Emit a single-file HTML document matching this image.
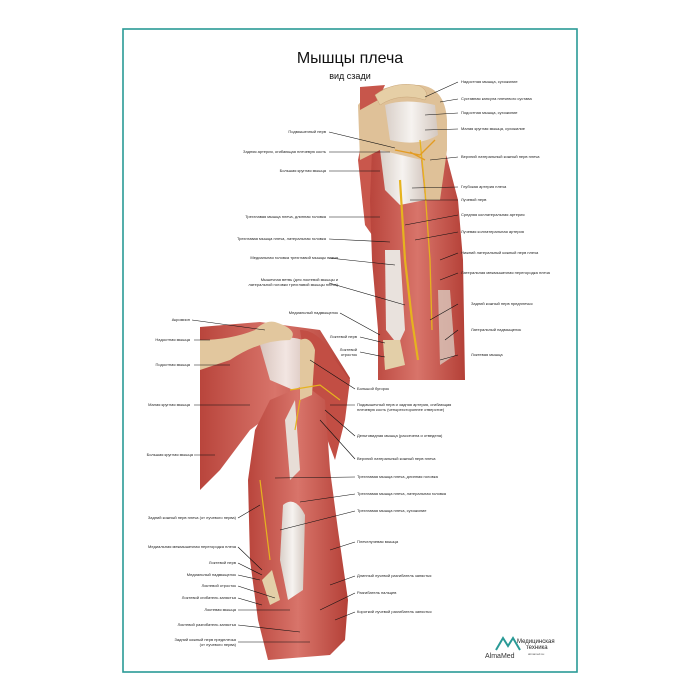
<!DOCTYPE html>
<html><head><meta charset="utf-8"><style>
body{margin:0;background:#fff}
svg{display:block}
text{font-family:"Liberation Sans",sans-serif;font-size:4px;fill:#222}
.l{stroke:#111;stroke-width:0.6;fill:none}
</style></head><body>
<svg width="700" height="700" viewBox="0 0 700 700">
<defs>
<linearGradient id="m" x1="0" x2="1"><stop offset="0" stop-color="#b9453c"/><stop offset="0.5" stop-color="#d8746a"/><stop offset="1" stop-color="#b44037"/></linearGradient>
<linearGradient id="t" x1="0" x2="1"><stop offset="0" stop-color="#d9cfc8"/><stop offset="0.5" stop-color="#f6f3f0"/><stop offset="1" stop-color="#d4c8c0"/></linearGradient>
</defs>
<rect x="123" y="29" width="454" height="643" fill="none" stroke="#2a9a96" stroke-width="1.6"/>
<text x="350" y="63" text-anchor="middle" style="font-size:16px;fill:#111">Мышцы плеча</text>
<text x="350" y="79" text-anchor="middle" style="font-size:9px;fill:#111">вид сзади</text>

<!-- TOP ARM -->
<path d="M360 150 L378 150 L378 205 L372 235 L365 225 L358 160Z" fill="#c9574c"/>
<path d="M372 150 L445 150 L458 200 L463 260 L465 380 L378 380 L378 330 L372 260 L370 200Z" fill="url(#m)"/>
<path d="M385 250 L400 250 L405 330 L398 345 L386 330Z" fill="#e9e2dd"/>
<path d="M383 340 L400 340 L405 365 L385 370Z" fill="#e3cfa8"/>
<path d="M438 290 L450 290 L455 355 L440 365Z" fill="#d9c8bd" opacity="0.8"/>
<path d="M380 150 L420 150 L425 200 L400 205 L385 190Z" fill="url(#t)"/>
<path d="M358 105 Q375 83 420 85 Q445 88 447 120 L447 150 L440 200 L425 200 L422 160 L380 150 L360 160Z" fill="#dfc198"/>
<path d="M385 105 Q405 98 435 105 L438 135 Q418 147 390 140Z" fill="url(#t)"/>
<path d="M360 87 L385 85 L378 100 L360 110Z" fill="#c7564b"/>
<path d="M375 95 Q395 80 420 86 Q430 92 425 100 Q400 92 380 105Z" fill="#e6cfa6" stroke="#c9a67a" stroke-width="0.5"/>
<path d="M400 180 L405 260 L412 320 L418 360" stroke="#e6b31e" stroke-width="2.2" fill="none"/>
<path d="M420 140 L425 190 L430 260 L432 330" stroke="#e6b31e" stroke-width="1.3" fill="none"/>
<path d="M395 150 L420 155 L435 140 M410 152 L425 160" stroke="#e39b22" stroke-width="1.3" fill="none"/>

<!-- BOTTOM FIGURE -->
<path d="M200 327 L260 322 L320 330 L350 378 L345 400 L320 420 L290 400 L250 430 L220 470 L200 490Z" fill="url(#m)"/>
<path d="M300 330 Q320 330 335 360 L350 380 L345 420 L335 460 L320 420 L310 395Z" fill="#c24e44"/>
<path d="M260 345 Q290 330 312 345 L305 395 L270 380Z" fill="url(#t)" opacity="0.9"/>
<path d="M270 400 L305 385 L325 400 L330 470 L338 530 L348 600 L345 640 L330 655 L268 660 L258 620 L250 560 L248 480 L255 430Z" fill="url(#m)"/>
<path d="M283 505 Q295 495 305 515 L303 590 L288 600 L280 560Z" fill="url(#t)"/>
<path d="M262 580 L272 570 L280 600 L270 605Z" fill="#e3cfa8"/>
<path d="M295 400 L300 470 L290 480 L285 420Z" fill="#e7ddd6"/>
<path d="M200 340 Q230 340 255 330 Q265 320 275 322 Q300 330 290 340 Q260 340 230 360 L200 370Z" fill="#e2c79e"/>
<path d="M300 340 Q310 335 315 350 L312 395 L300 400Z" fill="#e2c79e"/>
<path d="M290 390 L320 385 L340 400 M300 400 L295 430 M260 480 L270 560" stroke="#e6b31e" stroke-width="1.2" fill="none"/>

<g class="l">
<path d="M425 97 L458 82 M440 102 L458 99 M425 115 L458 113 M425 130 L458 129 M430 160 L458 157 M412 188 L458 187 M410 200 L458 200 M405 225 L458 215 M415 240 L458 232 M440 260 L458 253 M440 280 L458 273 M430 320 L458 304 M445 340 L458 330 M440 360 L458 355"/>
<path d="M329 132 L395 148 M329 152 L390 152 M329 171 L380 171 M329 217 L380 217 M329 239 L390 242 M329 258 L395 265 M329 283 L405 305 M340 313 L380 335 M360 337 L385 343 M360 352 L385 357"/>
<path d="M192 320 L265 330 M194 340 L210 340 M194 365 L230 365 M194 405 L250 405 M194 455 L215 455 M238 518 L260 505 M238 547 L262 570 M238 563 L262 575 M238 575 L260 580 M238 586 L275 598 M238 598 L262 605 M238 610 L290 610 M238 625 L300 632 M238 642 L310 642"/>
<path d="M355 389 L310 360 M355 405 L330 405 M355 436 L325 410 M355 459 L320 420 M355 477 L275 478 M355 494 L300 502 M355 511 L280 530 M355 542 L330 550 M355 576 L330 585 M355 593 L320 610 M355 612 L335 620"/>
</g>
<g>
<text x="461" y="83">Надостная мышца, сухожилие</text>
<text x="461" y="100">Суставная капсула плечевого сустава</text>
<text x="461" y="114">Подостная мышца, сухожилие</text>
<text x="461" y="130">Малая круглая мышца, сухожилие</text>
<text x="461" y="158">Верхний латеральный кожный нерв плеча</text>
<text x="461" y="188">Глубокая артерия плеча</text>
<text x="461" y="201">Лучевой нерв</text>
<text x="461" y="216">Средняя коллатеральная артерия</text>
<text x="461" y="233">Лучевая коллатеральная артерия</text>
<text x="461" y="254">Нижний латеральный кожный нерв плеча</text>
<text x="461" y="274">Латеральная межмышечная перегородка плеча</text>
<text x="471" y="305">Задний кожный нерв предплечья</text>
<text x="471" y="331">Латеральный надмыщелок</text>
<text x="471" y="356">Локтевая мышца</text>
</g>
<g text-anchor="end">
<text x="326" y="133">Подмышечный нерв</text>
<text x="326" y="153">Задняя артерия, огибающая плечевую кость</text>
<text x="326" y="172">Большая круглая мышца</text>
<text x="326" y="218">Трехглавая мышца плеча, длинная головка</text>
<text x="326" y="240">Трехглавая мышца плеча, латеральная головка</text>
<text x="338" y="259">Медиальная головка трехглавой мышцы плеча</text>
<text x="338" y="281">Мышечная ветвь (для локтевой мышцы и</text>
<text x="338" y="286">латеральной головки трехглавой мышцы плеча)</text>
<text x="338" y="314">Медиальный надмыщелок</text>
<text x="357" y="338">Локтевой нерв</text>
<text x="357" y="351">Локтевой</text>
<text x="357" y="356">отросток</text>
<text x="190" y="321">Акромион</text>
<text x="190" y="341">Надостная мышца</text>
<text x="190" y="366">Подостная мышца</text>
<text x="190" y="406">Малая круглая мышца</text>
<text x="193" y="456">Большая круглая мышца</text>
<text x="236" y="519">Задний кожный нерв плеча (от лучевого нерва)</text>
<text x="236" y="548">Медиальная межмышечная перегородка плеча</text>
<text x="236" y="564">Локтевой нерв</text>
<text x="236" y="576">Медиальный надмыщелок</text>
<text x="236" y="587">Локтевой отросток</text>
<text x="236" y="599">Локтевой сгибатель запястья</text>
<text x="236" y="611">Локтевая мышца</text>
<text x="236" y="626">Локтевой разгибатель запястья</text>
<text x="236" y="641">Задний кожный нерв предплечья</text>
<text x="236" y="646">(от лучевого нерва)</text>
</g>
<g>
<text x="357" y="390">Большой бугорок</text>
<text x="357" y="406">Подмышечный нерв и задняя артерия, огибающая</text>
<text x="357" y="411">плечевую кость (четырехстороннее отверстие)</text>
<text x="357" y="437">Дельтовидная мышца (рассечена и отведена)</text>
<text x="357" y="460">Верхний латеральный кожный нерв плеча</text>
<text x="357" y="478">Трехглавая мышца плеча, длинная головка</text>
<text x="357" y="495">Трехглавая мышца плеча, латеральная головка</text>
<text x="357" y="512">Трехглавая мышца плеча, сухожилие</text>
<text x="357" y="543">Плечелучевая мышца</text>
<text x="357" y="577">Длинный лучевой разгибатель запястья</text>
<text x="357" y="594">Разгибатель пальцев</text>
<text x="357" y="613">Короткий лучевой разгибатель запястья</text>
</g>
<path d="M496 650 L503 638 L508 646 L513 638 L520 650" stroke="#2a9a96" stroke-width="2" fill="none"/>
<text x="485" y="658" style="font-size:7px;fill:#333">AlmaMed</text>
<text x="517" y="643" style="font-size:6px;fill:#222">Медицинская</text>
<text x="526" y="649" style="font-size:6px;fill:#222">техника</text>
<text x="528" y="655" style="font-size:3px;fill:#555">almamed.su</text>
</svg>
</body></html>
